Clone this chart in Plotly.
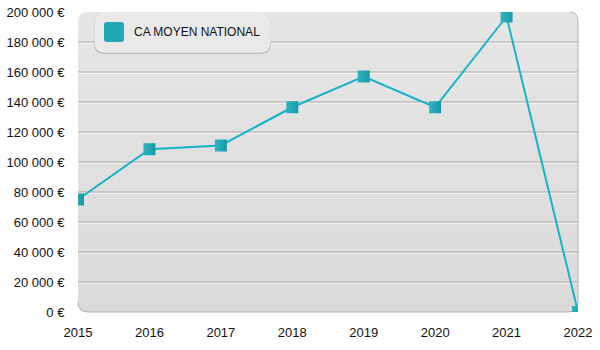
import plotly.graph_objects as go

# Chiffre d'affaires moyen national par année
years = [2015, 2016, 2017, 2018, 2019, 2020, 2021, 2022]
ca_moyen = [75000, 108500, 111000, 136500, 157000, 136500, 197000, 0]
series_name = "CA MOYEN NATIONAL"

y_tick_values = [0, 20000, 40000, 60000, 80000, 100000, 120000, 140000, 160000, 180000, 200000]
y_tick_labels = ["0 €", "20 000 €", "40 000 €", "60 000 €", "80 000 €", "100 000 €",
                 "120 000 €", "140 000 €", "160 000 €", "180 000 €", "200 000 €"]

W, H = 600, 350
M_L, M_R, M_T, M_B = 78, 22, 12, 38
PW, PH = W - M_L - M_R, H - M_T - M_B
R = 10  # corner radius of the plot panel, px

LINE_COLOR = "#17b3c7"
MARK_LIGHT = "#2cb6c2"
MARK_DARK = "#1a97a5"


def rounded_path(x0, y0, x1, y1, r, corners=("tl", "tr", "br", "bl")):
    """SVG path of a rectangle (pixel units, y up) with selected rounded corners."""
    def rr(c):
        return r if c in corners else 0
    tl, tr, br, bl = rr("tl"), rr("tr"), rr("br"), rr("bl")
    p = f"M {x0 + bl},{y0} L {x1 - br},{y0} "
    p += f"Q {x1},{y0} {x1},{y0 + br} " if br else ""
    p += f"L {x1},{y1 - tr} "
    p += f"Q {x1},{y1} {x1 - tr},{y1} " if tr else ""
    p += f"L {x0 + tl},{y1} "
    p += f"Q {x0},{y1} {x0},{y1 - tl} " if tl else ""
    p += f"L {x0},{y0 + bl} "
    p += f"Q {x0},{y0} {x0 + bl},{y0} " if bl else ""
    return p + "Z"


def px_shape(path, **kw):
    # pixel-sized path anchored at the bottom-left corner of the plot area
    return dict(type="path", xref="paper", yref="paper", xsizemode="pixel", ysizemode="pixel",
                xanchor=0, yanchor=0, path=path, **kw)


def lerp_grey(t, a=0xdb, b=0xe6):
    v = round(a + (b - a) * t)
    return f"rgb({v},{v},{v})"


shapes = []

# panel background: vertical grey gradient made of horizontal bands
n_bands = 15
band_h = PH / n_bands
for i in range(n_bands):
    y0 = i * band_h
    y1 = (i + 1) * band_h + (0 if i == n_bands - 1 else 0.6)
    corners = ()
    if i == 0:
        corners = ("bl", "br")
    elif i == n_bands - 1:
        corners = ("tl", "tr")
    shapes.append(px_shape(rounded_path(0, y0, PW, y1, R, corners),
                           fillcolor=lerp_grey(i / (n_bands - 1)),
                           line=dict(width=0), layer="below"))

# embossed grid lines: grey line with a white highlight just below
for v in y_tick_values[1:-1]:
    shapes.append(dict(type="line", xref="paper", yref="y", x0=0, x1=1,
                       ysizemode="pixel", yanchor=v, y0=-1, y1=-1,
                       line=dict(color="#ffffff", width=1), layer="below"))
    shapes.append(dict(type="line", xref="paper", yref="y", x0=0, x1=1, y0=v, y1=v,
                       line=dict(color="#a9a9a9", width=1), layer="below"))

# thin border on the right and bottom edges of the panel
shapes.append(px_shape(
    f"M 0,{R} Q 0,0 {R},0 L {PW - R},0 Q {PW},0 {PW},{R} L {PW},{PH - R} Q {PW},{PH} {PW - R + 2},{PH}",
    line=dict(color="#b0b0b0", width=1), layer="below"))

# legend box
LX0, LX1 = 95 - M_L, 270 - M_L
LY_TOP, LY_BOT = PH - (14 - M_T), PH - (52 - M_T)
shapes.append(px_shape(rounded_path(LX0 - 1, LY_BOT - 2, LX1 + 1, LY_TOP, 10),
                       fillcolor="rgba(150,150,150,0.45)", line=dict(width=0), layer="above"))
shapes.append(px_shape(rounded_path(LX0, LY_BOT, LX1, LY_TOP, 10),
                       fillcolor="#e9e9e9", line=dict(color="#f2f2f2", width=1), layer="above"))
# legend swatch
SX0, SX1 = 104 - M_L, 124 - M_L
SY1, SY0 = PH - (22 - M_T), PH - (42 - M_T)
shapes.append(px_shape(rounded_path(SX0, SY0, SX1, SY1, 3),
                       fillcolor="#21a8b5", line=dict(width=0), layer="above"))

fig = go.Figure()
fig.add_trace(go.Scatter(
    x=years, y=ca_moyen, name=series_name, mode="lines+markers",
    line=dict(color=LINE_COLOR, width=2),
    marker=dict(symbol="square", size=12, color=MARK_LIGHT,
                gradient=dict(type="horizontal", color=MARK_DARK),
                line=dict(width=0)),
    cliponaxis=True, showlegend=False,
))

fig.add_annotation(
    text=series_name, xref="paper", yref="paper", x=0, y=1,
    xshift=(132 - M_L), yshift=-(32 - M_T), xanchor="left", yanchor="middle",
    showarrow=False, font=dict(family="Liberation Sans, Arial", size=12, color="#111111"),
)

fig.update_layout(
    width=W, height=H,
    margin=dict(l=M_L, r=M_R, t=M_T, b=M_B, pad=0, autoexpand=False),
    paper_bgcolor="#ffffff", plot_bgcolor="rgba(0,0,0,0)",
    font=dict(family="Liberation Sans, Arial", size=13, color="#111111"),
    shapes=shapes,
)
fig.update_xaxes(
    range=[years[0], years[-1]], tickmode="array", tickvals=years,
    ticktext=[str(y) for y in years], showgrid=False, zeroline=False, showline=False,
    ticks="outside", ticklen=8, tickcolor="rgba(0,0,0,0)", fixedrange=True, automargin=False,
)
fig.update_yaxes(
    range=[0, 200000], tickmode="array", tickvals=y_tick_values, ticktext=y_tick_labels,
    showgrid=False, zeroline=False, showline=False,
    ticks="outside", ticklen=10, tickcolor="rgba(0,0,0,0)", fixedrange=True, automargin=False,
)

fig.write_html("out.html", config={"displayModeBar": False})
